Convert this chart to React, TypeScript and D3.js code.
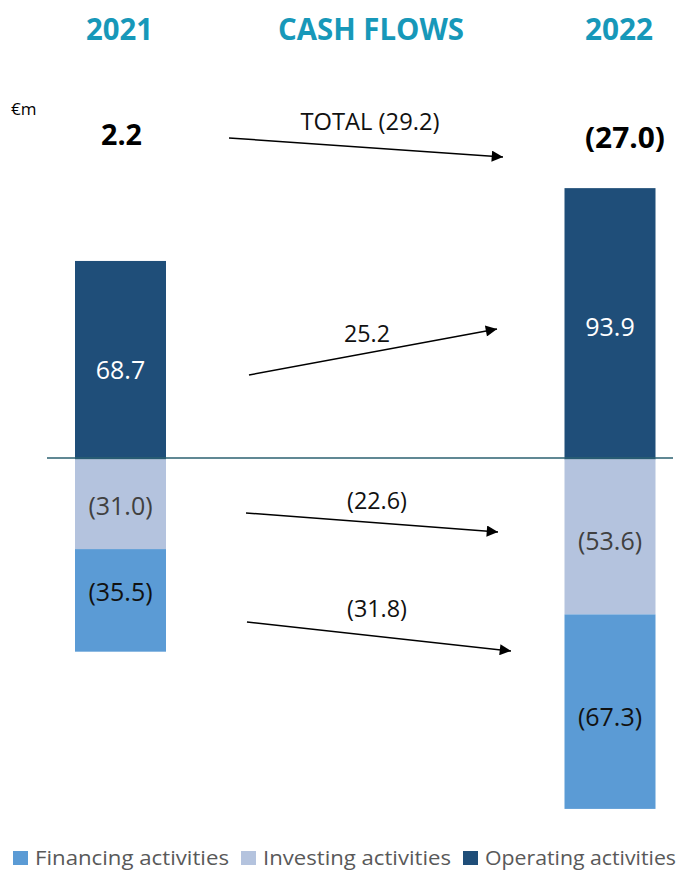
import React from "react";
import * as d3 from "d3";

const years = ["2021", "2022"];
const categories = ["Financing activities", "Investing activities", "Operating activities"];
const operating = [68.7, 93.9];
const investing = [-31.0, -53.6];
const financing = [-35.5, -67.3];
const totals = ["2.2", "(27.0)"];
const changeLabels = ["TOTAL (29.2)", "25.2", "(22.6)", "(31.8)"];
const title = "CASH FLOWS";
const unit = "€m";

const W = 678;
const H = 871;
const FONT = "'Open Sans', 'Noto Sans', sans-serif";
const colors: Record<string, string> = {
  "Financing activities": "#5b9bd5",
  "Investing activities": "#b4c3de",
  "Operating activities": "#1f4e79",
};
const labelColors: Record<string, string> = {
  "Financing activities": "#111111",
  "Investing activities": "#404040",
  "Operating activities": "#ffffff",
};
// per-segment label baseline offsets from segment centre (layout)
const labelDy: Record<string, number[]> = {
  "Operating activities": [19, 12.5],
  "Investing activities": [11, 13],
  "Financing activities": [1, 14],
};

const fmt = (v: number) => (v < 0 ? `(${Math.abs(v).toFixed(1)})` : v.toFixed(1));

export default function App() {
  const x = d3.scalePoint<string>().domain(years).range([120.5, 610]);
  const barW = 91;
  const y = d3.scaleLinear().domain([0, 100]).range([459.5, 459.5 - 289]);

  type Seg = { year: string; idx: number; cat: string; y0: number; y1: number; v: number };
  const segs: Seg[] = [];
  years.forEach((yr, i) => {
    segs.push({ year: yr, idx: i, cat: "Operating activities", y0: 0, y1: operating[i], v: operating[i] });
    segs.push({ year: yr, idx: i, cat: "Investing activities", y0: 0, y1: investing[i], v: investing[i] });
    segs.push({
      year: yr,
      idx: i,
      cat: "Financing activities",
      y0: investing[i],
      y1: investing[i] + financing[i],
      v: financing[i],
    });
  });

  const arrows = [
    { x1: 229, y1: 138, x2: 503, y2: 157, lx: 370, ly: 130, tl: 139, label: changeLabels[0] },
    { x1: 249, y1: 375, x2: 497, y2: 329, lx: 367, ly: 342, tl: 46, label: changeLabels[1] },
    { x1: 246, y1: 513, x2: 498, y2: 532, lx: 377, ly: 509, tl: 60, label: changeLabels[2] },
    { x1: 247, y1: 622, x2: 511, y2: 651, lx: 377, ly: 617, tl: 60, label: changeLabels[3] },
  ];

  const legendX = [13, 241, 463];
  const legendTL = [194, 188, 191];

  return (
    <div style={{ position: "absolute", left: 0, top: 0 }}>
      <svg width={W} height={H} style={{ display: "block", fontFamily: FONT }}>
        <defs>
          <marker id="ah" viewBox="0 0 10 10" refX="10" refY="5" markerWidth="9.5" markerHeight="7.5" orient="auto" markerUnits="strokeWidth">
            <path d="M0,0 L10,5 L0,10 z" fill="#000" />
          </marker>
        </defs>
        <rect width={W} height={H} fill="#fff" />
        {/* headers */}
        <text x={86} y={40} textLength={67} lengthAdjust="spacingAndGlyphs" fontSize={31} fontWeight={700} fill="#1798b9">{years[0]}</text>
        <text x={278} y={40} textLength={186} lengthAdjust="spacingAndGlyphs" fontSize={31} fontWeight={700} fill="#1798b9">{title}</text>
        <text x={585} y={40} textLength={68} lengthAdjust="spacingAndGlyphs" fontSize={31} fontWeight={700} fill="#1798b9">{years[1]}</text>
        <text x={11} y={115} fontSize={17} fill="#000">{unit}</text>
        <text x={101} y={145} textLength={41} lengthAdjust="spacingAndGlyphs" fontSize={28} fontWeight={700} fill="#000">{totals[0]}</text>
        <text x={585} y={148} textLength={80} lengthAdjust="spacingAndGlyphs" fontSize={28} fontWeight={700} fill="#000">{totals[1]}</text>

        {/* bars */}
        {segs.map((s, i) => {
          const top = Math.min(y(s.y0), y(s.y1));
          const h = Math.abs(y(s.y0) - y(s.y1));
          const cx = x(s.year)!;
          return (
            <g key={i}>
              <rect x={cx - barW / 2} y={top} width={barW} height={h} fill={colors[s.cat]} />
              <text
                x={cx}
                y={top + h / 2 + labelDy[s.cat][s.idx]}
                textAnchor="middle"
                fontSize={25}
                fill={labelColors[s.cat]}
              >
                {fmt(s.v)}
              </text>
            </g>
          );
        })}
        <line x1={47} x2={673} y1={y(0) - 1.5} y2={y(0) - 1.5} stroke="#2b6070" strokeWidth={1.5} />

        {/* arrows */}
        {arrows.map((a, i) => (
          <g key={i}>
            <line x1={a.x1} y1={a.y1} x2={a.x2} y2={a.y2} stroke="#000" strokeWidth={1.5} markerEnd="url(#ah)" />
            <text x={a.lx} y={a.ly} textAnchor="middle" textLength={a.tl} lengthAdjust="spacingAndGlyphs" fontSize={23} fill="#111">{a.label}</text>
          </g>
        ))}

        {/* legend */}
        {categories.map((c, i) => (
          <g key={c} transform={`translate(${legendX[i]},0)`}>
            <rect x={0} y={851} width={15} height={14} fill={colors[c]} />
            <text x={22} y={865} textLength={legendTL[i]} lengthAdjust="spacingAndGlyphs" fontSize={20} fill="#595959">{c}</text>
          </g>
        ))}
      </svg>
    </div>
  );
}
